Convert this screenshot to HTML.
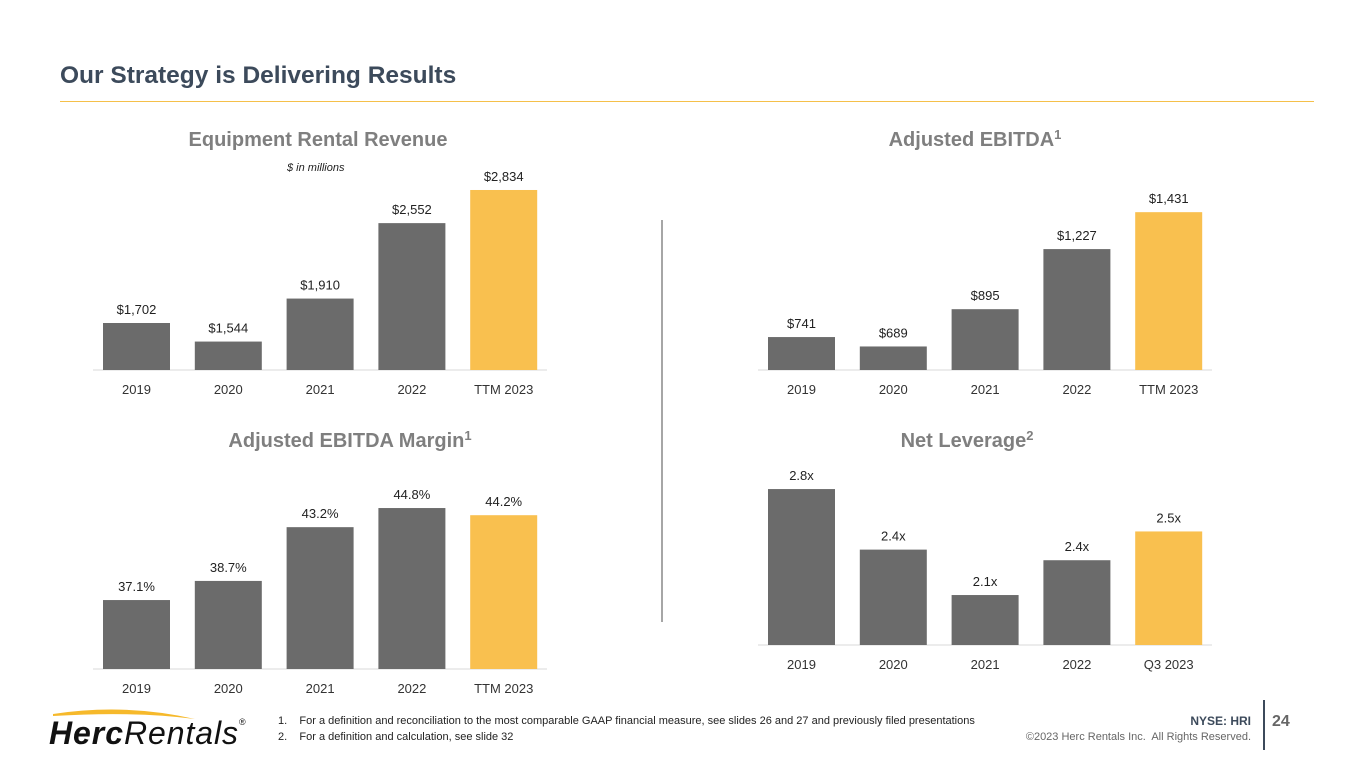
<!DOCTYPE html>
<html><head><meta charset="utf-8"><style>
body{margin:0;width:1365px;height:769px;background:#fff;font-family:"Liberation Sans",sans-serif;position:relative;overflow:hidden}
.abs{position:absolute}
.t{position:absolute;font-weight:bold;font-size:20px;line-height:22px;color:#7f7f7f;transform:translateX(-50%);white-space:nowrap}
.t sup{font-size:13px;line-height:0;vertical-align:7px}
.fn{font-size:11px;color:#222}
</style></head><body>
<div class="abs" style="left:60px;top:62px;font-size:24.5px;font-weight:bold;color:#3c4a5b">Our Strategy is Delivering Results</div>
<div class="abs" style="left:60px;top:101px;width:1254px;height:1px;background:#f5c04a"></div>
<div class="t" style="left:318px;top:129px">Equipment Rental Revenue</div>
<div class="abs" style="left:287px;top:162px;font-size:11px;font-style:italic;color:#222">$ in millions</div>
<div class="t" style="left:975px;top:129px">Adjusted EBITDA<sup>1</sup></div>
<div class="t" style="left:350px;top:430px">Adjusted EBITDA Margin<sup>1</sup></div>
<div class="t" style="left:967px;top:430px">Net Leverage<sup>2</sup></div>
<div class="abs" style="left:661px;top:220px;width:2px;height:402px;background:#a6a6a6"></div>
<svg id="charts" class="abs" style="left:0;top:0" width="1365" height="769"></svg>
<svg class="abs" style="left:45px;top:705px" width="210" height="50">
<path d="M8 9 Q80 -2 150 14 Q90 6 8 11Z" fill="#f6b92b"/>
<text x="4" y="39" font-family="Liberation Sans" font-weight="bold" font-style="italic" font-size="32" fill="#111" textLength="74">Herc</text>
<text x="79" y="39" font-family="Liberation Sans" font-style="italic" font-size="32" fill="#111" textLength="114">Rentals</text>
<text x="194" y="20" font-family="Liberation Sans" font-size="9" fill="#111">®</text>
</svg>
<div class="abs fn" style="left:278px;top:715px">1.&nbsp;&nbsp;&nbsp; For a definition and reconciliation to the most comparable GAAP financial measure, see slides 26 and 27 and previously filed presentations</div>
<div class="abs fn" style="left:278px;top:731px">2.&nbsp;&nbsp;&nbsp; For a definition and calculation, see slide 32</div>
<div class="abs" style="right:114px;top:714px;font-size:12px;font-weight:bold;color:#3c4a5b">NYSE: HRI</div>
<div class="abs" style="right:114px;top:731px;font-size:11px;color:#666">©2023 Herc Rentals Inc.&nbsp; All Rights Reserved.</div>
<div class="abs" style="left:1263px;top:700px;width:2px;height:50px;background:#3c4a5b"></div>
<div class="abs" style="left:1272px;top:713px;font-size:16px;font-weight:bold;color:#666">24</div>
<script>
const yearsA=["2019","2020","2021","2022","TTM 2023"];
const yearsB=["2019","2020","2021","2022","Q3 2023"];
const revenue=[1702,1544,1910,2552,2834];
const revenueLabels=["$1,702","$1,544","$1,910","$2,552","$2,834"];
const ebitda=[741,689,895,1227,1431];
const ebitdaLabels=["$741","$689","$895","$1,227","$1,431"];
const margin=[37.1,38.7,43.2,44.8,44.2];
const marginLabels=["37.1%","38.7%","43.2%","44.8%","44.2%"];
const leverage=[2.8,2.4,2.1,2.33,2.52];
const leverageLabels=["2.8x","2.4x","2.1x","2.4x","2.5x"];
const svg=document.getElementById('charts');
const NS="http://www.w3.org/2000/svg";
function mk(t,a){const e=document.createElementNS(NS,t);for(const k in a)e.setAttribute(k,a[k]);svg.appendChild(e);return e;}
function chart(name,x0,base,cats,vals,labels,min,scale){
  const y=v=>base-(v-min)*scale;
  const ax=mk('line',{x1:x0-10,x2:x0+444,y1:base,y2:base,stroke:'#d9d9d9','stroke-width':1});
  
  
  vals.forEach((v,i)=>{
    const bx=x0+i*91.8;const top=y(v);
    const r=mk('rect',{x:bx,y:top,width:67,height:base-top,fill:i==4?'#f9c04f':'#6b6b6b'});
    
    
    const l=mk('text',{x:bx+33.5,y:top-9,'text-anchor':'middle','font-size':13,fill:'#222','font-family':'Liberation Sans'});
    l.textContent=labels[i];
    
    
    const c=mk('text',{x:bx+33.5,y:base+24,'text-anchor':'middle','font-size':13,fill:'#333','font-family':'Liberation Sans'});
    c.textContent=cats[i];
    
    
  });
}
chart('revenue',103,370,yearsA,revenue,revenueLabels,1302,0.1175);
chart('ebitda',768,370,yearsA,ebitda,ebitdaLabels,559,0.181);
chart('margin',103,669,yearsA,margin,marginLabels,31.33,11.95);
chart('leverage',768,645,yearsB,leverage,leverageLabels,1.77,151.4);
</script>
</body></html>
